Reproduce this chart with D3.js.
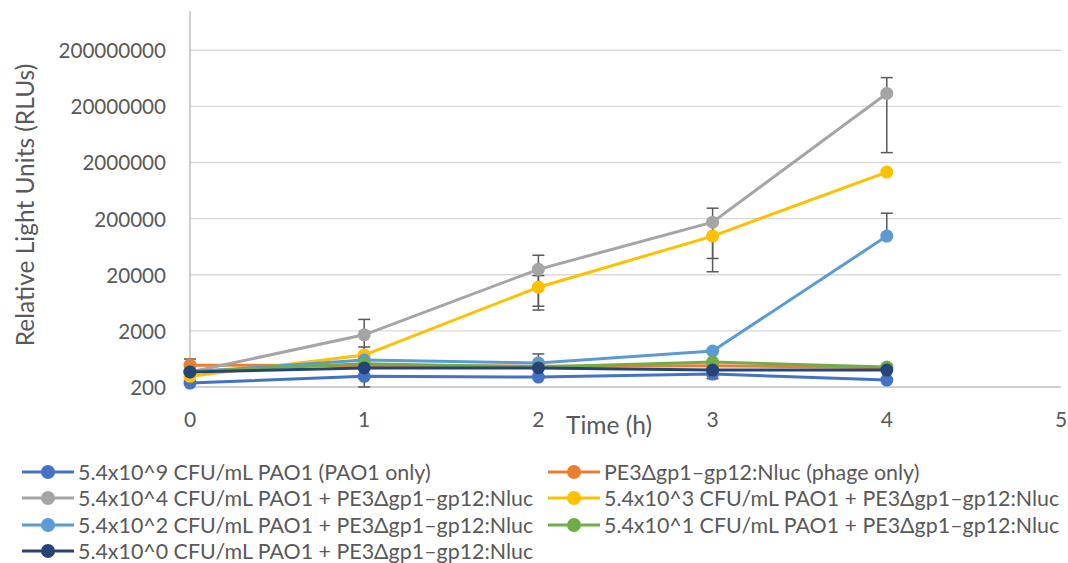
<!DOCTYPE html>
<html>
<head>
<meta charset="utf-8">
<script src="https://d3js.org/d3.v7.min.js"></script>
<style>
  body { margin: 0; background: #fff; }
  text { font-family: Lato, "Open Sans", sans-serif; fill: #595959; }
</style>
</head>
<body>
<svg class="chart" width="1068" height="563"></svg>
<script>
// time points (h) and axis ticks
var times = [0, 1, 2, 3, 4]
var xTicks = [0, 1, 2, 3, 4, 5]
var yTicks = [200, 2000, 20000, 200000, 2000000, 20000000, 200000000]

// series names, in legend order
var names = [
  "5.4x10^9 CFU/mL PAO1 (PAO1 only)",
  "PE3\u0394gp1\u2013gp12:Nluc (phage only)",
  "5.4x10^4 CFU/mL PAO1 + PE3\u0394gp1\u2013gp12:Nluc",
  "5.4x10^3 CFU/mL PAO1 + PE3\u0394gp1\u2013gp12:Nluc",
  "5.4x10^2 CFU/mL  PAO1 + PE3\u0394gp1\u2013gp12:Nluc",
  "5.4x10^1 CFU/mL PAO1 + PE3\u0394gp1\u2013gp12:Nluc",
  "5.4x10^0 CFU/mL PAO1 + PE3\u0394gp1\u2013gp12:Nluc"
]

// RLU values
var pao1Only  = [235, 310, 301, 340, 266]
var phageOnly = [490, 480, 470, 480, 440]
var cfu4 = [370, 1700, 25000, 173000, 34000000]
var cfu3 = [310, 742, 12000, 97600, 1350000]
var cfu2 = [370, 604, 536, 874, 97600]
var cfu1 = [380, 520, 454, 557, 454]
var cfu0 = [370, 437, 437, 401, 401]

// error bar half-widths (0 = none)
var errPao1Only  = [0, 0, 0, 0, 0]
var errPhageOnly = [140, 0, 0, 0, 0]
var errCfu4 = [0, 1500, 19500, 134000, 31000000]
var errCfu3 = [0, 290, 7300, 75000, 0]
var errCfu2 = [0, 0, 240, 0, 152000]
var errCfu1 = [0, 0, 0, 0, 0]
var errCfu0 = [0, 0, 0, 120, 0]

var colors = ["#4472C4", "#ED7D31", "#A5A5A5", "#FFC000", "#5B9BD5", "#70AD47", "#264478"]

var allValues = [pao1Only, phageOnly, cfu4, cfu3, cfu2, cfu1, cfu0]
var allErrors = [errPao1Only, errPhageOnly, errCfu4, errCfu3, errCfu2, errCfu1, errCfu0]

var series = names.map((n, i) => {
  return {name: n, color: colors[i],
    points: times.map((t, j) => ({t: t, v: allValues[i][j], e: allErrors[i][j]}))}
})

var svg = d3.select("svg")

var xScale = d3.scaleLinear().domain([0, 5]).range([190, 1061])
var yScale = d3.scaleLog().domain([200, 1e9]).range([387, 11])

// gridlines
svg.append("g").selectAll("line")
  .data(yTicks.slice(1))
  .enter().append("line")
  .attr("x1", xScale(0)).attr("x2", xScale(5))
  .attr("y1", d => yScale(d)).attr("y2", d => yScale(d))
  .attr("stroke", "#D9D9D9").attr("stroke-width", 1.3)

// axes lines
svg.append("line")
  .attr("x1", xScale(0)).attr("x2", xScale(5))
  .attr("y1", yScale(200)).attr("y2", yScale(200))
  .attr("stroke", "#BFBFBF").attr("stroke-width", 1.5)
svg.append("line")
  .attr("x1", xScale(0)).attr("x2", xScale(0))
  .attr("y1", yScale(1e9)).attr("y2", yScale(200))
  .attr("stroke", "#BFBFBF").attr("stroke-width", 1.5)

// tick labels
svg.append("g").selectAll("text")
  .data(yTicks).enter().append("text")
  .attr("x", 166).attr("y", d => yScale(d))
  .attr("text-anchor", "end").attr("dominant-baseline", "central")
  .style("font-size", "20.6px")
  .text(d => d3.format("d")(d))

svg.append("g").selectAll("text")
  .data(xTicks).enter().append("text")
  .attr("x", d => xScale(d)).attr("y", 418)
  .attr("text-anchor", "middle").attr("dominant-baseline", "central")
  .style("font-size", "21px")
  .text(d => d)

// axis titles
svg.append("text")
  .attr("transform", "translate(24,205) rotate(-90)")
  .attr("text-anchor", "middle").attr("dominant-baseline", "central")
  .style("font-size", "24.5px")
  .text("Relative Light Units (RLUs)")

svg.append("text")
  .attr("x", 609).attr("y", 424)
  .attr("text-anchor", "middle").attr("dominant-baseline", "central")
  .style("font-size", "24.5px")
  .text("Time (h)")

// error bars (behind the series)
var bars = []
series.forEach(s => s.points.forEach(p => { if (p.e > 0) bars.push(p) }))

var eb = svg.append("g").attr("stroke", "#595959").attr("stroke-width", 1.5)
bars.forEach(p => {
  var x = xScale(p.t)
  var top = yScale(p.v + p.e)
  var lo = p.v - p.e
  var bottom = lo > 0 ? yScale(Math.max(lo, 200)) : yScale(p.v)
  eb.append("line").attr("x1", x).attr("x2", x).attr("y1", top).attr("y2", bottom)
  eb.append("line").attr("x1", x - 6).attr("x2", x + 6).attr("y1", top).attr("y2", top)
  if (lo > 0)
    eb.append("line").attr("x1", x - 6).attr("x2", x + 6).attr("y1", bottom).attr("y2", bottom)
})

// series lines and markers
var line = d3.line().x(d => xScale(d.t)).y(d => yScale(d.v))

series.forEach(s => {
  var g = svg.append("g")
  g.append("path")
    .attr("d", line(s.points))
    .attr("fill", "none").attr("stroke", s.color).attr("stroke-width", 3)
  g.selectAll("circle")
    .data(s.points).enter().append("circle")
    .attr("cx", d => xScale(d.t)).attr("cy", d => yScale(d.v))
    .attr("r", 6.5).style("fill", s.color)
})

// legend
var legCols = [22, 548]
var legRows = [472, 498, 525, 551]

var leg = svg.append("g").selectAll("g")
  .data(series).enter().append("g")
  .attr("transform", (d, i) => "translate(" + legCols[i % 2] + "," + legRows[Math.floor(i / 2)] + ")")

leg.append("line")
  .attr("x1", 0).attr("x2", 52).attr("y1", 0).attr("y2", 0)
  .attr("stroke", d => d.color).attr("stroke-width", 3)
leg.append("circle")
  .attr("cx", 26).attr("cy", 0).attr("r", 7)
  .style("fill", d => d.color)
leg.append("text")
  .attr("x", 56).attr("y", 0)
  .attr("dominant-baseline", "central")
  .style("font-size", "21.4px")
  .text(d => d.name)
</script>
</body>
</html>
